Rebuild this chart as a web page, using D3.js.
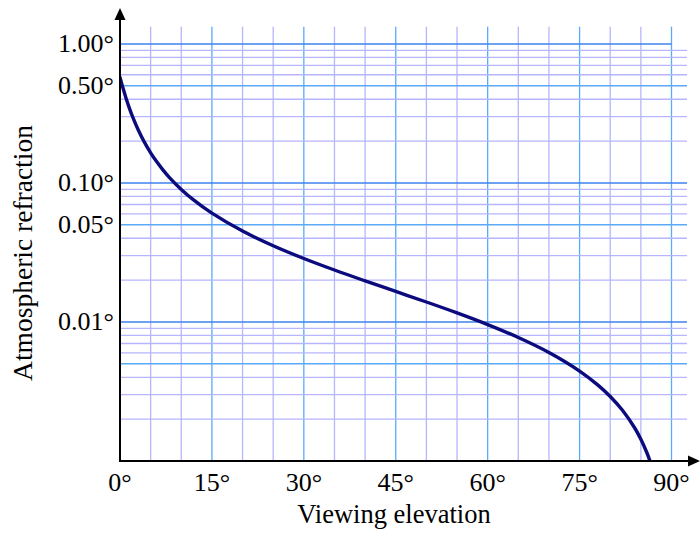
<!DOCTYPE html>
<html>
<head>
<meta charset="utf-8">
<script src="https://cdn.jsdelivr.net/npm/d3@7"></script>
<style>
  html, body { margin: 0; padding: 0; background: #fff; }
  svg { display: block; }
  text { font-family: "Liberation Serif", "Times New Roman", serif; fill: #000; }
</style>
</head>
<body>
<svg id="chart" width="700" height="539"></svg>
<script>
// Apparent elevation of the object, degrees
const elevation = [0, 0.5, 1, 1.5, 2, 3, 4, 5, 6, 7, 8, 10, 12, 15, 20, 25, 30, 35, 40, 45,
                   50, 55, 60, 65, 70, 75, 78, 80, 82, 84, 85, 86, 86.5, 87];
// Atmospheric refraction at that elevation, degrees
const refraction = [0.5746, 0.4792, 0.4055, 0.3484, 0.3036, 0.2391, 0.1956, 0.1647, 0.1418,
                    0.1242, 0.1103, 0.08986, 0.07552, 0.06060, 0.04506, 0.03534, 0.02862,
                    0.02364, 0.01975, 0.01658, 0.01392, 0.01162, 0.009579, 0.007735,
                    0.006034, 0.004437, 0.003516, 0.002913, 0.002317, 0.001727, 0.001434,
                    0.001142, 0.000996, 0.000850];

const xTickValues = [0, 15, 30, 45, 60, 75, 90];
const xTickLabels = ["0°", "15°", "30°", "45°", "60°", "75°", "90°"];
const yTickValues = [1, 0.5, 0.1, 0.05, 0.01];
const yTickLabels = ["1.00°", "0.50°", "0.10°", "0.05°", "0.01°"];

const svg = d3.select("#chart");
const x0 = 120, x90 = 671.5, yBottom = 461, yTop = 26.7, gridRight = 687;

const x = d3.scaleLinear().domain([0, 90]).range([x0, x90]);
const y = d3.scaleLog().domain([0.001, 1.33]).range([yBottom, yTop]);

const colDecade = "#3d82ee", colFive = "#5aaaf8", colMinor = "#b6b6ff";

// vertical grid: every 5 degrees, brighter every 15
const gx = svg.append("g");
d3.range(5, 91, 5).forEach(v => {
  gx.append("line")
    .attr("x1", x(v)).attr("x2", x(v))
    .attr("y1", yTop).attr("y2", yBottom)
    .attr("stroke", v % 15 === 0 ? colFive : colMinor)
    .attr("stroke-width", 1.3);
});

// horizontal log grid
const gy = svg.append("g");
const lead = v => Math.round(v / Math.pow(10, Math.floor(Math.log10(v) + 1e-9)));
const yGrid = y.ticks().filter(v => v > 0.0011);
// minor first, then majors on top
yGrid.sort((a, b) => (lead(a) === 1 || lead(a) === 5 ? 1 : 0) - (lead(b) === 1 || lead(b) === 5 ? 1 : 0));
yGrid.forEach(v => {
  const l = lead(v);
  gy.append("line")
    .attr("x1", x0).attr("x2", Math.abs(v - 1) < 1e-9 ? x90 : gridRight)
    .attr("y1", y(v)).attr("y2", y(v))
    .attr("stroke", l === 1 ? colDecade : (l === 5 ? colFive : colMinor))
    .attr("stroke-width", l === 1 || l === 5 ? 1.5 : 1.3);
});

// refraction curve, clipped to the plot
svg.append("clipPath").attr("id", "plotClip")
  .append("rect").attr("x", x0).attr("y", 0).attr("width", 600).attr("height", yBottom);

const pts = elevation.map((e, i) => [e, refraction[i]]);
const line = d3.line()
  .x(d => x(d[0]))
  .y(d => y(d[1]))
  .curve(d3.curveCatmullRom.alpha(0.5));

svg.append("path")
  .attr("d", line(pts))
  .attr("clip-path", "url(#plotClip)")
  .attr("fill", "none")
  .attr("stroke", "#0b0b7e")
  .attr("stroke-width", 3.4)
  .attr("stroke-linecap", "round");

// axes with arrowheads
svg.append("line").attr("x1", x0).attr("x2", 692).attr("y1", yBottom).attr("y2", yBottom)
  .attr("stroke", "#000").attr("stroke-width", 2);
svg.append("line").attr("x1", x0).attr("x2", x0).attr("y1", yBottom + 1).attr("y2", 16)
  .attr("stroke", "#000").attr("stroke-width", 2);
svg.append("path")
  .attr("d", `M${x0},8 L${x0 - 5.5},20 L${x0 + 5.5},20 Z`).attr("fill", "#000");
svg.append("path")
  .attr("d", `M700,${yBottom} L688,${yBottom - 5.5} L688,${yBottom + 5.5} Z`).attr("fill", "#000");

// tick labels
svg.append("g").selectAll("text").data(xTickValues).join("text")
  .attr("x", d => x(d)).attr("y", 491)
  .attr("text-anchor", "middle")
  .attr("font-size", 26)
  .text((d, i) => xTickLabels[i]);

svg.append("g").selectAll("text").data(yTickValues).join("text")
  .attr("x", 114).attr("y", d => y(d) + 8.5)
  .attr("text-anchor", "end")
  .attr("font-size", 26)
  .text((d, i) => yTickLabels[i]);

// axis titles
svg.append("text")
  .attr("x", 394).attr("y", 523)
  .attr("text-anchor", "middle")
  .attr("font-size", 26.5)
  .text("Viewing elevation");

svg.append("text")
  .attr("transform", "translate(32,253) rotate(-90)")
  .attr("text-anchor", "middle")
  .attr("font-size", 27.5)
  .text("Atmospheric refraction");
</script>
</body>
</html>
